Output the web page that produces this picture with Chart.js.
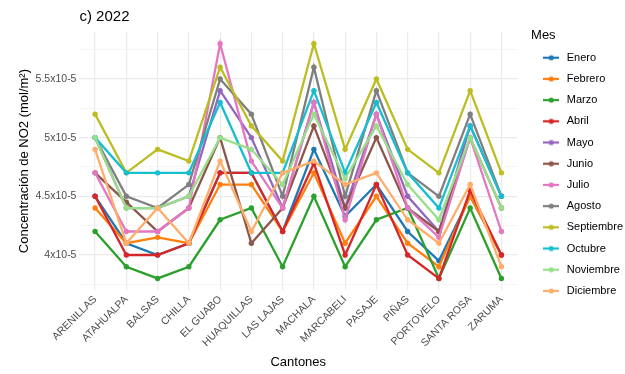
<!DOCTYPE html>
<html lang="es">
<head>
<meta charset="UTF-8">
<title>c) 2022 - Concentración de NO2</title>
<script src="https://cdn.jsdelivr.net/npm/chart.js"></script>
<style>
    body { margin: 0; background: #fff; }
    #wrap { width: 625px; height: 374px; position: relative; }
</style>
</head>
<body>
<div id="wrap"><canvas id="chart"></canvas></div>
<script>
// values in units of 1e-5 mol/m²
const cantones = ['ARENILLAS', 'ATAHUALPA', 'BALSAS', 'CHILLA', 'EL GUABO', 'HUAQUILLAS', 'LAS LAJAS',
    'MACHALA', 'MARCABELI', 'PASAJE', 'PIÑAS', 'PORTOVELO', 'SANTA ROSA', 'ZARUMA'];

const enero      = [4.5, 4.1, 4.0, 4.1, 4.7, 4.7, 4.2, 4.9, 4.33, 4.6, 4.2, 3.95, 4.5, 4.0];
const febrero    = [4.4, 4.1, 4.15, 4.1, 4.6, 4.6, 4.2, 4.7, 4.1, 4.5, 4.1, 3.9, 4.5, 4.0];
const marzo      = [4.2, 3.9, 3.8, 3.9, 4.3, 4.4, 3.9, 4.5, 3.9, 4.3, 4.4, 3.8, 4.4, 3.8];
const abril      = [4.5, 4.0, 4.0, 4.1, 4.7, 4.7, 4.2, 4.78, 4.0, 4.6, 4.0, 3.8, 4.55, 4.0];
const mayo       = [5.0, 4.4, 4.4, 4.5, 5.4, 5.0, 4.4, 5.3, 4.4, 5.2, 4.5, 4.2, 5.1, 4.5];
const junio      = [4.7, 4.45, 4.2, 4.4, 5.0, 4.1, 4.4, 5.1, 4.4, 5.0, 4.4, 4.2, 5.0, 4.4];
const julio      = [4.7, 4.2, 4.2, 4.4, 5.8, 4.8, 4.4, 5.3, 4.3, 5.2, 4.4, 4.15, 5.0, 4.2];
const agosto     = [5.0, 4.5, 4.4, 4.6, 5.5, 5.2, 4.5, 5.6, 4.5, 5.4, 4.7, 4.5, 5.2, 4.5];
const septiembre = [5.2, 4.7, 4.9, 4.8, 5.6, 5.1, 4.8, 5.8, 4.9, 5.5, 4.9, 4.7, 5.4, 4.7];
const octubre    = [5.0, 4.7, 4.7, 4.7, 5.3, 4.7, 4.7, 5.4, 4.7, 5.3, 4.7, 4.4, 5.1, 4.5];
const noviembre  = [5.0, 4.4, 4.4, 4.5, 5.0, 4.9, 4.6, 5.2, 4.65, 5.1, 4.6, 4.3, 5.0, 4.4];
const diciembre  = [4.9, 4.1, 4.4, 4.1, 4.8, 4.2, 4.7, 4.8, 4.6, 4.7, 4.3, 4.1, 4.6, 3.9];

const meses = ['Enero', 'Febrero', 'Marzo', 'Abril', 'Mayo', 'Junio', 'Julio', 'Agosto',
    'Septiembre', 'Octubre', 'Noviembre', 'Diciembre'];
const series = [enero, febrero, marzo, abril, mayo, junio, julio, agosto, septiembre, octubre, noviembre, diciembre];
const colores = ['#1f77b4', '#ff7f0e', '#2ca02c', '#d62728', '#9467bd', '#8c564b', '#e377c2', '#7f7f7f',
    '#bcbd22', '#17becf', '#98df8a', '#ffad6b'];

// little line+dot icon for the legend, like ggplot's key
function legendKey(color) {
    const c = document.createElement('canvas');
    c.width = 16; c.height = 8;
    const g = c.getContext('2d');
    g.strokeStyle = color; g.lineWidth = 2.2;
    g.beginPath(); g.moveTo(0, 4); g.lineTo(16, 4); g.stroke();
    g.fillStyle = color;
    g.beginPath(); g.arc(8, 4, 2.6, 0, Math.PI * 2); g.fill();
    return c;
}

const datasets = meses.map((m, i) => ({
    label: m,
    data: series[i],
    borderColor: colores[i],
    backgroundColor: colores[i],
    pointBackgroundColor: colores[i],
    pointBorderWidth: 0,
    pointRadius: 2.7,
    borderWidth: 2.3,
    tension: 0,
    order: meses.length - i   // later months drawn on top
}));

const fontFam = '"Liberation Sans", Arial, sans-serif';
const isMajor = v => Math.abs(v * 2 - Math.round(v * 2)) < 1e-6;

new Chart(document.getElementById('chart'), {
    type: 'line',
    data: { labels: cantones, datasets: datasets },
    options: {
        responsive: true,
        maintainAspectRatio: false,
        animation: false,
        layout: { padding: { left: 17, right: -8, top: 2, bottom: 4 } },
        plugins: {
            title: {
                display: true,
                text: 'c) 2022',
                align: 'start',
                fullSize: false,
                color: '#000',
                font: { family: fontFam, size: 15, weight: 'normal' },
                padding: { top: 6, bottom: 6 }
            },
            legend: {
                position: 'right',
                align: 'start',
                title: {
                    display: true,
                    position: 'start',
                    text: 'Mes',
                    color: '#000',
                    font: { family: fontFam, size: 13, lineHeight: 1 },
                    padding: { top: 27, bottom: 0 }
                },
                labels: {
                    usePointStyle: true,
                    pointStyleWidth: 20,
                    padding: 10.2,
                    color: '#1a1a1a',
                    font: { family: fontFam, size: 11 },
                    generateLabels: chart => chart.data.datasets.map((ds, i) => ({
                        text: ds.label,
                        pointStyle: legendKey(ds.borderColor),
                        fillStyle: ds.borderColor,
                        strokeStyle: ds.borderColor,
                        lineWidth: 0,
                        hidden: false,
                        datasetIndex: i
                    }))
                }
            },
            tooltip: { enabled: false }
        },
        scales: {
            x: {
                offset: true,
                grid: { offset: false, color: '#ebebeb', lineWidth: 1.2, drawTicks: false },
                border: { display: false },
                ticks: {
                    autoSkip: false,
                    minRotation: 45,
                    maxRotation: 45,
                    padding: 3,
                    color: '#4d4d4d',
                    font: { family: fontFam, size: 10.5 }
                },
                title: {
                    display: true,
                    text: 'Cantones',
                    color: '#000',
                    font: { family: fontFam, size: 13 },
                    padding: { top: 2, bottom: 0 }
                }
            },
            y: {
                min: 3.7,
                max: 5.9,
                grid: {
                    drawTicks: false,
                    color: ctx => isMajor(ctx.tick.value) ? '#ebebeb' : '#f3f3f3',
                    lineWidth: ctx => isMajor(ctx.tick.value) ? 1.2 : 0.8
                },
                border: { display: false },
                ticks: {
                    stepSize: 0.25,
                    includeBounds: false,
                    padding: 3,
                    color: '#4d4d4d',
                    font: { family: fontFam, size: 10.5 },
                    callback: v => isMajor(v) ? v + 'x10-5' : ''
                },
                title: {
                    display: true,
                    text: 'Concentración de NO2 (mol/m²)',
                    color: '#000',
                    font: { family: fontFam, size: 13 },
                    padding: { top: 0, bottom: 0 }
                }
            },
            // empty right axis, only keeps a gap between panel and legend
            gap: {
                type: 'linear',
                position: 'right',
                display: true,
                grid: { display: false },
                border: { display: false },
                ticks: { display: false },
                afterFit: s => { s.width = 14; }
            }
        }
    }
});
</script>
</body>
</html>
